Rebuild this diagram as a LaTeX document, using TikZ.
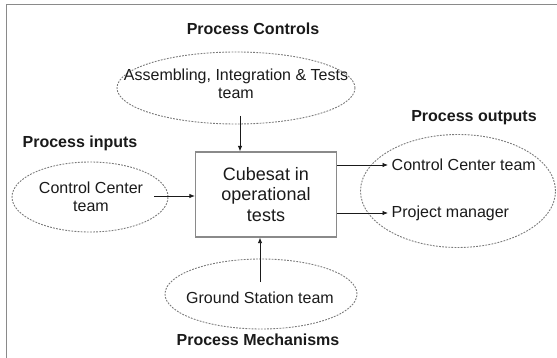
\documentclass[tikz,border=0pt]{standalone}
\usepackage{fontspec}
\setmainfont{Liberation Sans}
\usetikzlibrary{shapes.geometric,arrows.meta}
\definecolor{txt}{HTML}{1A1A1A}
\definecolor{frm}{HTML}{8A8A8A}
\definecolor{dsh}{HTML}{7A7A7A}
\begin{document}
\begin{tikzpicture}[x=1pt,y=-1pt,
  oval/.style={ellipse, draw=dsh, line width=0.9pt, dash pattern=on 1.8pt off 1.3pt, inner sep=0pt},
  lbl/.style={font=\fontsize{16}{18}\selectfont, text=txt, align=center, inner sep=0pt},
  head/.style={font=\fontsize{16}{18}\selectfont\bfseries, text=txt, inner sep=0pt},
  procbox/.style={draw=frm, line width=1.3pt, fill=white, minimum width=141pt, minimum height=85pt, inner sep=0pt,
     font=\fontsize{18}{20.5}\selectfont, text=txt, align=center},
  arr/.style={draw=txt, line width=0.8pt, -{Latex[length=5.5pt,width=4.5pt]}}]
\useasboundingbox (0,0) rectangle (557,358);
% frame
\draw[frm, line width=1.5pt] (6.5,358) -- (6.5,4.5) -- (557,4.5);

% headings
\node[head] (hctl) at (253,29) {Process Controls};
\node[head] (hin) at (80,143) {Process inputs};
\node[head] (hout) at (474,118) {Process outputs};
\node[head] (hmech) at (258,340) {Process Mechanisms};

% ellipses
\node[oval, minimum width=238pt, minimum height=72pt] (etop) at (236,88) {};
\node[oval, minimum width=156pt, minimum height=70pt] (ein) at (90,197) {};
\node[oval, minimum width=195pt, minimum height=113pt] (eout) at (458,191) {};
\node[oval, minimum width=192pt, minimum height=70pt] (ebot) at (261,294) {};

% texts
\node[lbl] (ttop) at (236,84) {Assembling, Integration \& Tests\\team};
\node[lbl] (tin) at (91,197) {Control Center\\team};
\node[lbl, anchor=west, inner xsep=3.5pt] (out1) at (388,165) {Control Center team};
\node[lbl, anchor=west, inner xsep=3.5pt] (out2) at (388,213) {Project manager};
\node[lbl] (tbot) at (260,298) {Ground Station team};

% process box
\node[procbox] (box) at (266,194.5) {Cubesat in\\operational\\tests};

% connectors
\coordinate (ctop) at (240,116);
\coordinate (cin) at (154,196);
\coordinate (cbot) at (260,282);
\draw[arr] (ctop) -- (ctop |- box.north);
\draw[arr] (cin) -- (cin -| box.west);
\draw[arr] (cbot) -- (cbot |- box.south);
\draw[arr] (out1.west -| box.east) -- (out1.west);
\draw[arr] (out2.west -| box.east) -- (out2.west);
\end{tikzpicture}
\end{document}
